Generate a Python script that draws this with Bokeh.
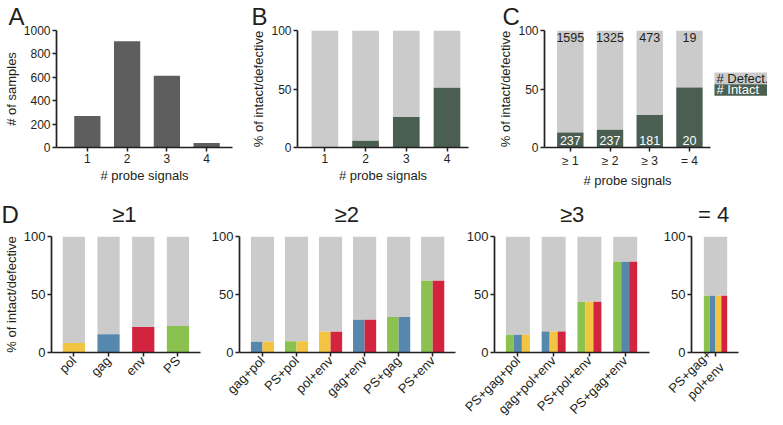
from bokeh.plotting import figure
from bokeh.models import Range1d, FixedTicker, ColumnDataSource
from bokeh.layouts import row, column
from bokeh.embed import file_html
from bokeh.resources import INLINE
from bokeh.core.properties import value

# ---------------- data ----------------
a_signals = ["1", "2", "3", "4"]
a_samples = [269, 908, 614, 39]

b_signals = ["1", "2", "3", "4"]
b_intact_pct = [0.0, 5.8, 26.0, 51.0]

c_groups = ["≥ 1", "≥ 2", "≥ 3", "= 4"]
c_intact_pct = [12.9, 15.2, 27.7, 51.3]
c_intact_n = [237, 237, 181, 20]
c_defect_n = [1595, 1325, 473, 19]
legend_labels = ["# Defect.", "# Intact"]

d_titles = ["≥1", "≥2", "≥3", "= 4"]
d1_probes = ["pol", "gag", "env", "PS"]
d1_intact_pct = [8.2, 15.8, 22.0, 22.9]
d2_probes = ["gag+pol", "PS+pol", "pol+env", "gag+env", "PS+gag", "PS+env"]
d2_intact_pct = [9.3, 9.6, 17.8, 28.2, 30.5, 61.9]
d3_probes = ["PS+gag+pol", "gag+pol+env", "PS+pol+env", "PS+gag+env"]
d3_intact_pct = [15.3, 18.1, 43.8, 78.2]
d4_probes = ["PS+gag+pol+env"]
d4_tick_labels = ["PS+gag+\npol+env"]
d4_intact_pct = [48.9]

panel_letters = ["A", "B", "C", "D"]

probe_colors = {"PS": "#8bc14f", "gag": "#5687ad", "pol": "#f3c442", "env": "#d2243f"}
GRAY = "#cbcbcb"
DARK = "#5e5e5e"
INTACT = "#4a5f51"
INK = "#231f20"
FONT = "Liberation Sans"

# ---------------- geometry helpers (reference pixels -> layout pixels) ----------------
SX = 767 / 783


def X(v):
    return round(v * SX)


def bare_fig(x0, x1, y0, y1, ft=None, fb=None):
    """A figure without axes; ranges are in reference pixels of its frame."""
    ft = y0 if ft is None else ft
    fb = y1 if fb is None else fb
    p = figure(width=X(x1) - X(x0), height=y1 - y0,
               x_range=Range1d(x0, x1), y_range=Range1d(fb, ft),
               x_axis_location=None, y_axis_location=None,
               output_backend="svg", toolbar_location=None,
               min_border_left=0, min_border_right=0,
               min_border_top=ft - y0, min_border_bottom=y1 - fb)
    p.outline_line_color = None
    p.grid.visible = False
    return p


def make_fig(x0, x1, ax, fr, y0, y1, ft, fb, xr, yr, yticks, xlabels,
             ylabel=None, xlabel=None, orient="horizontal", letter=None, letter_x=None,
             tick_size="12px"):
    p = figure(width=X(x1) - X(x0), height=y1 - y0,
               x_range=Range1d(*xr), y_range=Range1d(*yr),
               output_backend="svg", toolbar_location=None,
               min_border_left=X(ax) - X(x0), min_border_right=X(x1) - X(fr),
               min_border_top=ft - y0, min_border_bottom=y1 - fb)
    p.outline_line_color = None
    p.grid.visible = False
    for axis in (p.xaxis[0], p.yaxis[0]):
        axis.axis_line_width = 1.7
        axis.axis_line_color = INK
        axis.major_tick_line_width = 1.5
        axis.major_tick_line_color = INK
        axis.major_tick_out = 4
        axis.major_tick_in = 0
        axis.minor_tick_out = 0
        axis.minor_tick_in = 0
        axis.major_label_text_font = FONT
        axis.major_label_text_font_size = tick_size
        axis.major_label_text_color = INK
        axis.major_label_standoff = 2
        axis.axis_label_text_font = FONT
        axis.axis_label_text_font_size = "13px"
        axis.axis_label_text_font_style = "normal"
        axis.axis_label_text_color = INK
        axis.axis_label_standoff = 2
    p.yaxis.ticker = FixedTicker(ticks=yticks)
    p.xaxis.ticker = FixedTicker(ticks=list(range(1, len(xlabels) + 1)))
    p.xaxis.major_label_overrides = {i + 1: lab for i, lab in enumerate(xlabels)}
    p.xaxis.major_label_orientation = orient
    if ylabel:
        p.yaxis.axis_label = ylabel
    if xlabel:
        p.xaxis.axis_label = xlabel
    if letter:
        p.title.text = letter
        p.title.align = "left"
        p.title.offset = X(letter_x) - X(ax)
        p.title.vertical_align = "bottom"
        p.title.standoff = 1
        p.title.text_font = FONT
        p.title.text_font_size = "24px"
        p.title.text_font_style = "normal"
        p.title.text_color = INK
    return p


def positions(n):
    return list(range(1, n + 1))


# ---------------- top row ----------------
TOP0, TOP1 = 0, 190        # top-row band (reference px)
FT, FB = 29, 149           # frame top / bottom

# panel A
pa = make_fig(0, 253, 50, 237, TOP0, TOP1, FT, FB, (0.225, 4.65), (0, 1000),
              [0, 200, 400, 600, 800, 1000], a_signals,
              ylabel="# of samples", xlabel="# probe signals",
              letter=panel_letters[0], letter_x=1)
pa.vbar(x=positions(len(a_samples)), top=a_samples, bottom=0, width=0.66,
        fill_color=DARK, line_color=None)

# panel B
pb = make_fig(253, 505, 303, 478, TOP0, TOP1, FT, FB, (0.328, 4.528), (0, 100),
              [0, 50, 100], b_signals,
              ylabel="% of intact/defective", xlabel="# probe signals",
              letter=panel_letters[1], letter_x=256)
xb = positions(len(b_intact_pct))
pb.vbar(x=xb, bottom=b_intact_pct, top=[100] * len(xb), width=0.655,
        fill_color=GRAY, line_color=None)
pb.vbar(x=xb, bottom=0, top=b_intact_pct, width=0.655,
        fill_color=INTACT, line_color=None)

# panel C
pc = make_fig(505, 727, 551, 725, TOP0, TOP1, FT, FB, (0.35, 4.53), (0, 100),
              [0, 50, 100], c_groups,
              ylabel="% of intact/defective", xlabel="# probe signals",
              letter=panel_letters[2], letter_x=508)
xc = positions(len(c_intact_pct))
pc.vbar(x=xc, bottom=c_intact_pct, top=[100] * len(xc), width=0.665,
        fill_color=GRAY, line_color=None)
pc.vbar(x=xc, bottom=0, top=c_intact_pct, width=0.665,
        fill_color=INTACT, line_color=None)
pc.text(x=xc, y=[100] * len(xc), text=[str(n) for n in c_defect_n],
        text_align="center", text_baseline="middle", y_offset=7,
        text_font=value(FONT), text_font_size=value("12.5px"), text_color=INK)
pc.text(x=xc, y=[0] * len(xc), text=[str(n) for n in c_intact_n],
        text_align="center", text_baseline="middle", y_offset=-7,
        text_font=value(FONT), text_font_size=value("12.5px"), text_color="white")

# legend of panel C (colour boxes with the label written on them)
pleg = bare_fig(727, 783, TOP0, TOP1, FT, FB)
pleg.quad(left=[729, 729], right=[790, 790], top=[72, 84], bottom=[84, 96],
          fill_color=[GRAY, INTACT], line_color=None)
pleg.text(x=[731, 731], y=[78, 90], text=legend_labels,
          text_align="left", text_baseline="middle",
          text_font=value(FONT), text_font_size=value("13px"),
          text_color=[INK, "white"])


# ---------------- bottom row ----------------
BOT0, BOT1 = 228, 425
DFT, DFB = 236, 354


def split_bars(p, probes, pct, width):
    xs = positions(len(probes))
    p.vbar(x=xs, bottom=pct, top=[100] * len(xs), width=width,
           fill_color=GRAY, line_color=None)
    sx, sw, st, sc = [], [], [], []
    for c, lab, v in zip(xs, probes, pct):
        parts = lab.split("+")
        n = len(parts)
        for j, part in enumerate(parts):
            sx.append(c - width / 2 + (j + 0.5) * width / n)
            sw.append(width / n)
            st.append(v)
            sc.append(probe_colors[part])
    src = ColumnDataSource(dict(x=sx, w=sw, top=st, color=sc))
    p.vbar(x="x", width="w", top="top", bottom=0, fill_color="color",
           line_color=None, source=src)


ROT = 0.785398
# (x0, x1, axis x, frame right) per sub-panel, reference px
d_geom = [(0, 212, 49, 204), (212, 468, 242, 465), (468, 674, 504, 663), (674, 783, 703, 753)]

strip_bot = bare_fig(0, 783, 190, BOT0)
strip_bot.text(x=[1], y=[214], text=[panel_letters[3]], text_align="left",
               text_baseline="middle", text_font=value(FONT),
               text_font_size=value("24px"), text_color=INK)
strip_bot.text(x=[(g[2] + g[3]) / 2 for g in d_geom], y=[214] * 4, text=d_titles,
               text_align="center", text_baseline="middle", text_font=value(FONT),
               text_font_size=value("22px"), text_color=INK)

g = d_geom[0]
pd1 = make_fig(g[0], g[1], g[2], g[3], BOT0, BOT1, DFT, DFB, (0.356, 4.65), (0, 100),
               [0, 50, 100], d1_probes, ylabel="% of intact/defective", orient=ROT,
               tick_size="13px")
split_bars(pd1, d1_probes, d1_intact_pct, 0.64)

g = d_geom[1]
pd2 = make_fig(g[0], g[1], g[2], g[3], BOT0, BOT1, DFT, DFB, (0.325, 6.67), (0, 100),
               [0, 50, 100], d2_probes, orient=ROT, tick_size="13px")
split_bars(pd2, d2_probes, d2_intact_pct, 0.68)

g = d_geom[2]
pd3 = make_fig(g[0], g[1], g[2], g[3], BOT0, BOT1, DFT, DFB, (0.346, 4.68), (0, 100),
               [0, 50, 100], d3_probes, orient=ROT, tick_size="13px")
split_bars(pd3, d3_probes, d3_intact_pct, 0.67)

g = d_geom[3]
pd4 = make_fig(g[0], g[1], g[2], g[3], BOT0, BOT1, DFT, DFB, (0.29, 1.68), (0, 100),
               [0, 50, 100], d4_tick_labels, orient=ROT, tick_size="13px")
split_bars(pd4, d4_probes, d4_intact_pct, 0.69)

layout = column(row(pa, pb, pc, pleg),
                strip_bot, row(pd1, pd2, pd3, pd4))

open("out.html", "w").write(file_html(layout, INLINE))
